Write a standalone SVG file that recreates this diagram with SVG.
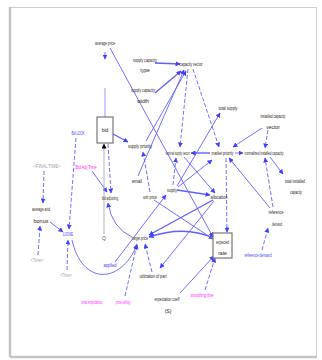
<svg xmlns="http://www.w3.org/2000/svg" width="322" height="360" viewBox="0 0 322 360">
<defs>
<marker id="ah" viewBox="0 0 10 10" refX="9" refY="5" markerWidth="5" markerHeight="5" markerUnits="userSpaceOnUse" orient="auto"><path d="M0,0 L10,5 L0,10 z" fill="#4040ff"/></marker>
<marker id="ahk" viewBox="0 0 10 10" refX="9" refY="5" markerWidth="5" markerHeight="5" markerUnits="userSpaceOnUse" orient="auto"><path d="M0,0 L10,5 L0,10 z" fill="#000"/></marker>
<style>
text{font-family:"Liberation Sans",Arial,sans-serif;font-size:5px;fill:#2a1a10;text-anchor:middle}
.b{fill:#3a3aff}.m{fill:#ff22ff}.g{fill:#a0a0a0}
.c path,.c line{fill:none;stroke:#6060ff;stroke-width:0.9;marker-end:url(#ah)}
.c .t{stroke-width:1.4}
.c .d{stroke-dasharray:4 2}
.box{fill:#fff;stroke:#777;stroke-width:1.2}
</style>
</defs>
<rect x="0" y="0" width="322" height="360" fill="#fff"/>
<rect x="9.5" y="7.5" width="307" height="349" fill="none" stroke="#cfcfcf" stroke-width="1"/>
<line x1="10" y1="7" x2="10" y2="357" stroke="#c4c4c4" stroke-width="2.5"/>
<line x1="10" y1="357" x2="317" y2="357" stroke="#c4c4c4" stroke-width="2.5"/>
<g class="c" id="connectors">
<line x1="105" y1="117" x2="105" y2="88" style="marker-end:none;stroke:#8b8bff"/>
<line x1="105" y1="52" x2="105" y2="59"/>
<line x1="110" y1="48" x2="213" y2="237"/>
<line class="t" x1="155" y1="63" x2="180" y2="64"/>
<line class="t" x1="155" y1="93" x2="181" y2="71"/>
<line x1="138" y1="176" x2="184" y2="70"/>
<line x1="146" y1="141" x2="186" y2="71"/>
<line class="d" x1="188" y1="69" x2="180" y2="147"/>
<line class="d" x1="193" y1="69" x2="219" y2="147"/>
<line x1="177" y1="186" x2="220" y2="113"/>
<line x1="262" y1="128" x2="233" y2="147"/>
<line class="d" x1="268" y1="130" x2="265" y2="148"/>
<line x1="235" y1="153" x2="243" y2="153"/>
<line x1="270" y1="157" x2="283" y2="174"/>
<line x1="270" y1="208" x2="229" y2="158"/>
<line class="d" x1="273" y1="207" x2="265" y2="158"/>
<line class="d" x1="262" y1="250" x2="268" y2="228"/>
<line class="t" x1="210" y1="153" x2="191" y2="153"/>
<line class="d" x1="226" y1="158" x2="227" y2="232"/>
<line x1="184" y1="157" x2="215" y2="193"/>
<line class="t" x1="177" y1="190" x2="210" y2="195"/>
<line x1="178" y1="187" x2="212" y2="160"/>
<line class="d" x1="173" y1="185" x2="176" y2="158"/>
<line x1="115" y1="262" x2="166" y2="195"/>
<line class="t" x1="113" y1="134" x2="128" y2="142"/>
<line class="d" x1="150" y1="192" x2="143" y2="152"/>
<line x1="154" y1="200" x2="213" y2="239"/>
<line class="t" x1="213" y1="200" x2="149" y2="235"/>
<path class="t" d="M213,238 Q185,225 149,237"/>
<line x1="214" y1="201" x2="160" y2="268"/>
<line class="d" x1="152" y1="272" x2="145" y2="244"/>
<line class="d" x1="125" y1="296" x2="137" y2="244"/>
<path d="M132,237 Q112,228 108,203"/>
<path d="M72,240 C82,285 120,285 137,245"/>
<line x1="92" y1="171" x2="107" y2="192"/>
<line class="d" x1="108" y1="144" x2="111" y2="193"/>
<line x1="104" y1="234" x2="104" y2="144" style="stroke:#aaa;marker-end:url(#ahk)"/>
<line class="d" x1="76" y1="138" x2="69" y2="229"/>
<line class="d" x1="44" y1="171" x2="43" y2="203"/>
<line x1="50" y1="222" x2="63" y2="232"/>
<line class="d" x1="38" y1="255" x2="40" y2="226"/>
<line class="d" x1="67" y1="270" x2="68" y2="240"/>
<line x1="180" y1="293" x2="214" y2="256"/>
<line class="d" x1="205" y1="290" x2="215" y2="258"/>
</g>
<g id="average_price"><text x="105" y="45" textLength="20" lengthAdjust="spacingAndGlyphs">average price</text></g>
<g id="supply_capacity_type"><text x="145" y="62" textLength="24" lengthAdjust="spacingAndGlyphs">supply capacity</text><text x="145" y="72">type</text></g>
<g id="supply_capacity_width"><text x="143" y="92" textLength="24" lengthAdjust="spacingAndGlyphs">supply capacity</text><text x="143" y="103">width</text></g>
<g id="capacity_vector"><text x="191" y="66" textLength="23" lengthAdjust="spacingAndGlyphs">capacity vector</text></g>
<g id="total_supply"><text x="228" y="110" textLength="19" lengthAdjust="spacingAndGlyphs">total supply</text></g>
<g id="installed_capacity_vector"><text x="273" y="118" textLength="25" lengthAdjust="spacingAndGlyphs">installed capacity</text><text x="273" y="129">vector</text></g>
<g id="normalized_installed_capacity"><text x="264" y="155" textLength="39" lengthAdjust="spacingAndGlyphs">normalized installed capacity</text></g>
<g id="market_priority"><text x="222.5" y="155" textLength="22" lengthAdjust="spacingAndGlyphs">market priority</text></g>
<g id="nominal_supply_vector"><text x="177.5" y="155" textLength="24" lengthAdjust="spacingAndGlyphs">nominal supply vector</text></g>
<g id="supply_priority"><text x="140" y="148" textLength="24" lengthAdjust="spacingAndGlyphs">supply priority</text></g>
<g id="bid"><rect class="box" x="97" y="117" width="16" height="26"/><text x="105" y="132">bid</text></g>
<g id="bid_look"><text class="b" x="78" y="135" textLength="13" lengthAdjust="spacingAndGlyphs">Bid LOOK</text></g>
<g id="final_time"><text class="g" x="47" y="168" textLength="27" lengthAdjust="spacingAndGlyphs">&lt;FINAL TIME&gt;</text></g>
<g id="bid_adj_time"><text class="m" x="86" y="169" textLength="21" lengthAdjust="spacingAndGlyphs">Bid Adj Time</text></g>
<g id="bid_adjusting"><text x="110" y="200" textLength="16" lengthAdjust="spacingAndGlyphs">bid adjusting</text></g>
<g id="email"><text x="137" y="183" textLength="10" lengthAdjust="spacingAndGlyphs">email</text></g>
<g id="unit_price"><text x="150" y="199" textLength="14" lengthAdjust="spacingAndGlyphs">unit price</text></g>
<g id="supply"><text x="172" y="192" textLength="10" lengthAdjust="spacingAndGlyphs">supply</text></g>
<g id="allocation"><text x="219" y="199" textLength="17" lengthAdjust="spacingAndGlyphs">allocation</text></g>
<g id="total_installed_capacity"><text x="295" y="183" textLength="20" lengthAdjust="spacingAndGlyphs">total installed</text><text x="296" y="194" textLength="12" lengthAdjust="spacingAndGlyphs">capacity</text></g>
<g id="reference_demand_node"><text x="276" y="214" textLength="15" lengthAdjust="spacingAndGlyphs">reference</text><text x="277" y="226" textLength="10" lengthAdjust="spacingAndGlyphs">demand</text></g>
<g id="average_and_bonus"><text x="41" y="211" textLength="18" lengthAdjust="spacingAndGlyphs">average and</text><text x="41" y="223" textLength="15" lengthAdjust="spacingAndGlyphs">bonus</text></g>
<g id="looke"><text class="b" x="68" y="236" textLength="10" lengthAdjust="spacingAndGlyphs">LOOKE</text></g>
<g id="cloud"><text x="104" y="240" style="fill:#555">Q</text></g>
<g id="target_price"><text x="140" y="240" textLength="16" lengthAdjust="spacingAndGlyphs">target price</text></g>
<g id="expected_rate"><rect class="box" x="213" y="233" width="19" height="25"/><text x="222.5" y="244" textLength="13" lengthAdjust="spacingAndGlyphs">expected</text><text x="222.5" y="255">rate</text></g>
<g id="time1"><text class="g" x="37" y="262" textLength="13" lengthAdjust="spacingAndGlyphs">&lt;Time&gt;</text></g>
<g id="time2"><text class="g" x="66" y="277" textLength="12" lengthAdjust="spacingAndGlyphs">&lt;Time&gt;</text></g>
<g id="applied"><text class="b" x="110" y="267" textLength="13" lengthAdjust="spacingAndGlyphs">applied</text></g>
<g id="utilization_of_part"><text x="153" y="278" textLength="27" lengthAdjust="spacingAndGlyphs">utilization of part</text></g>
<g id="initial_expectations"><text class="m" transform="translate(92,304) scale(0.52,1)">initial expectations</text></g>
<g id="price_ceiling"><text class="m" transform="translate(123,304) scale(0.55,1)">price ceiling</text></g>
<g id="expectation_coefficient"><text x="167" y="301" textLength="25" lengthAdjust="spacingAndGlyphs">expectation coeff</text><text x="168" y="313">(S)</text></g>
<g id="smoothing_time"><text class="m" x="202" y="297" textLength="23" lengthAdjust="spacingAndGlyphs">smoothing time</text></g>
<g id="reference_demand"><text class="b" x="258" y="257" textLength="27" lengthAdjust="spacingAndGlyphs">reference demand</text></g>
</svg>
